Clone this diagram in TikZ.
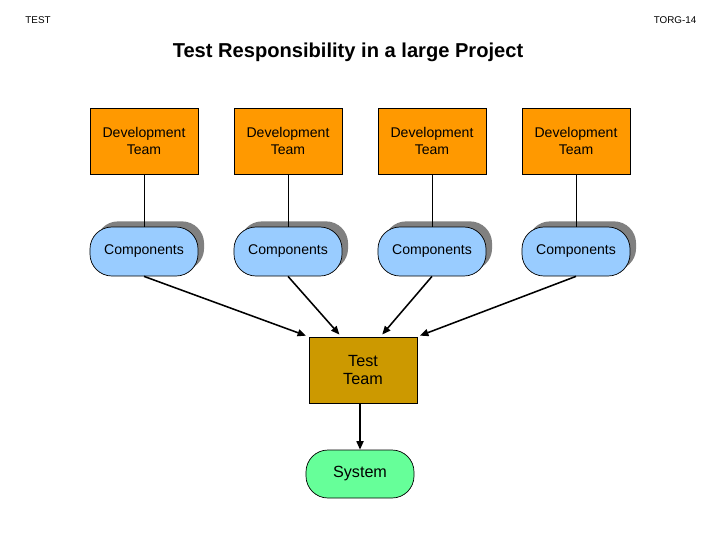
\documentclass[tikz,border=0pt]{standalone}
\usepackage{fontspec}
\setmainfont{Liberation Sans}
\usetikzlibrary{arrows.meta,shadows,calc}

\definecolor{devorange}{HTML}{FF9900}
\definecolor{compblue}{HTML}{99CCFF}
\definecolor{testgold}{HTML}{CC9900}
\definecolor{sysgreen}{HTML}{66FF99}

\tikzset{
  devbox/.style={draw, line width=0.5pt, fill=devorange, minimum width=2.7cm,
    minimum height=1.65cm, align=center, font=\fontsize{10}{12}\selectfont},
  compbox/.style={draw, line width=0.5pt, fill=compblue, rounded corners=0.55cm,
    minimum width=2.7cm, minimum height=1.225cm, font=\fontsize{10}{12}\selectfont,
    general shadow={fill=black!50, shadow xshift=4.3pt, shadow yshift=4pt}},
  testbox/.style={draw, line width=0.5pt, fill=testgold, minimum width=2.7cm,
    minimum height=1.65cm, align=center, font=\fontsize{11.5}{13.5}\selectfont},
  sysbox/.style={draw, line width=0.5pt, fill=sysgreen, rounded corners=0.55cm,
    minimum width=2.7cm, minimum height=1.2cm, font=\fontsize{11.5}{13.5}\selectfont},
  link/.style={line width=0.5pt},
  feed/.style={line width=1.1pt, -{Triangle[length=6pt,width=5pt]}, shorten >=2pt},
}

\begin{document}
\begin{tikzpicture}[x=0.025cm, y=-0.025cm]
  \useasboundingbox (0,0) rectangle (720,540);

  \node[font=\fontsize{7}{8}\selectfont] (hdleft)  at (38,20)  {TEST};
  \node[font=\fontsize{7}{8}\selectfont] (hdright) at (675,20) {TORG-14};
  \node[font=\bfseries\fontsize{14.3}{16}\selectfont] (title) at (348,52)
    {Test Responsibility in a large Project};

  % development teams
  \node[devbox] (dev1) at (144,141) {Development\\Team};
  \node[devbox] (dev2) at (288,141) {Development\\Team};
  \node[devbox] (dev3) at (432,141) {Development\\Team};
  \node[devbox] (dev4) at (576,141) {Development\\Team};

  % components
  \node[compbox] (comp1) at (144,251.5) {Components};
  \node[compbox] (comp2) at (288,251.5) {Components};
  \node[compbox] (comp3) at (432,251.5) {Components};
  \node[compbox] (comp4) at (576,251.5) {Components};

  \node[testbox] (test) at (363,370) {Test\\Team};
  \node[sysbox]  (sys)  at (360,474) {System};

  \foreach \i in {1,...,4}
    \draw[link] (dev\i.south) -- (comp\i.north);

  \draw[feed] (comp1.south) -- (test.north west);
  \draw[feed] (comp2.south) -- ($(test.north west)!0.3!(test.north east)$);
  \draw[feed] (comp3.south) -- ($(test.north west)!0.66!(test.north east)$);
  \draw[feed] (comp4.south) -- (test.north east);
  \draw[feed, shorten >=0pt] (test.south -| sys.north) -- (sys.north);
\end{tikzpicture}
\end{document}
